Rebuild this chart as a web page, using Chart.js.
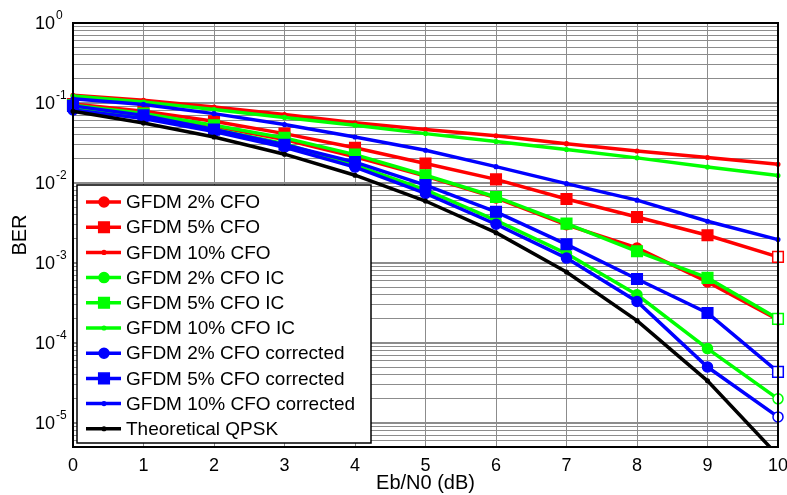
<!DOCTYPE html>
<html>
<head>
<meta charset="utf-8">
<script src="https://cdn.jsdelivr.net/npm/chart.js@4.4.1/dist/chart.umd.min.js"></script>
<style>
  html, body { margin: 0; padding: 0; background: #fff; }
  #wrap { width: 787px; height: 495px; }
</style>
</head>
<body>
<div id="wrap"><canvas id="berChart" width="787" height="495"></canvas></div>
<script>
// Eb/N0 in dB
const ebn0 = [0, 1, 2, 3, 4, 5, 6, 7, 8, 9, 10];

// BER curves
const cfo2    = [0.093, 0.072, 0.051, 0.035, 0.0212, 0.0122, 0.0065, 0.0030, 0.00154, 0.00058, 0.000195];
const cfo5    = [0.097, 0.079, 0.059, 0.0414, 0.0275, 0.0175, 0.0111, 0.0063, 0.00376, 0.00222, 0.00119];
const cfo10   = [0.125, 0.108, 0.089, 0.0716, 0.0565, 0.0465, 0.039, 0.031, 0.0251, 0.0208, 0.0171];
const cfo2ic  = [0.088, 0.068, 0.047, 0.031, 0.0167, 0.0082, 0.0034, 0.00131, 0.0004, 0.000085, 0.00002];
const cfo5ic  = [0.094, 0.074, 0.0526, 0.0366, 0.0226, 0.0125, 0.00668, 0.0031, 0.0014, 0.00065, 0.0002];
const cfo10ic = [0.122, 0.103, 0.083, 0.066, 0.0527, 0.0414, 0.033, 0.0262, 0.0206, 0.0158, 0.0124];
const cfo2cor  = [0.082, 0.064, 0.044, 0.028, 0.0158, 0.0074, 0.00305, 0.00115, 0.00033, 0.00005, 0.0000119];
const cfo5cor  = [0.092, 0.070, 0.0465, 0.030, 0.0182, 0.0094, 0.00436, 0.00171, 0.00063, 0.000237, 0.0000435];
const cfo10cor = [0.113, 0.096, 0.0736, 0.0537, 0.0376, 0.0256, 0.016, 0.0098, 0.0061, 0.00332, 0.00196];
const qpsk     = [0.0786, 0.0563, 0.0375, 0.0229, 0.0125, 0.00595, 0.00239, 0.00077, 0.00019, 0.0000336, 0.0000039];

// axes
const xMin = 0, xMax = 10;
const yMin = 5e-6, yMax = 1;
const yDecades = [0, -1, -2, -3, -4, -5];
const ySignificands = [1, 2, 3, 4, 5, 6, 7, 8, 9];

const FONT = '"Liberation Sans", Arial, sans-serif';

const series = [
    { label: 'GFDM 2% CFO', data: cfo2, color: '#ff0000', marker: 'circle' },
    { label: 'GFDM 5% CFO', data: cfo5, color: '#ff0000', marker: 'rect' },
    { label: 'GFDM 10% CFO', data: cfo10, color: '#ff0000', marker: 'dot' },
    { label: 'GFDM 2% CFO IC', data: cfo2ic, color: '#00ff00', marker: 'circle' },
    { label: 'GFDM 5% CFO IC', data: cfo5ic, color: '#00ff00', marker: 'rect' },
    { label: 'GFDM 10% CFO IC', data: cfo10ic, color: '#00ff00', marker: 'dot' },
    { label: 'GFDM 2% CFO corrected', data: cfo2cor, color: '#0000ff', marker: 'circle' },
    { label: 'GFDM 5% CFO corrected', data: cfo5cor, color: '#0000ff', marker: 'rect' },
    { label: 'GFDM 10% CFO corrected', data: cfo10cor, color: '#0000ff', marker: 'dot' },
    { label: 'Theoretical QPSK', data: qpsk, color: '#000000', marker: 'dot' }
];

const markerStyle = {
    circle: { style: 'circle', radius: 5 },
    rect: { style: 'rect', radius: 7.5 },
    dot: { style: 'circle', radius: 1.8 }
};

const datasets = series.map((s, i) => {
    const m = markerStyle[s.marker];
    const fills = s.data.map((v, j) => j === s.data.length - 1 && s.marker !== 'dot' ? '#ffffff' : s.color);
    return {
        label: s.label,
        data: s.data.map((v, j) => ({ x: ebn0[j], y: v })),
        borderColor: s.color,
        backgroundColor: s.color,
        borderWidth: 3.5,
        pointStyle: m.style,
        pointRadius: m.radius,
        pointBackgroundColor: fills,
        pointBorderColor: s.color,
        pointBorderWidth: 1.5,
        tension: 0,
        clip: { left: 10, right: 10, top: 10, bottom: 0 },
        order: series.length - i
    };
});

// frame, y labels with exponents, legend box
const matlabLook = {
    id: 'matlabLook',
    afterDraw(chart) {
        const ctx = chart.ctx;
        const area = chart.chartArea;
        const yScale = chart.scales.y;
        ctx.save();

        ctx.strokeStyle = '#000';
        ctx.lineWidth = 2;
        ctx.strokeRect(area.left, area.top, area.right - area.left, area.bottom - area.top);

        ctx.fillStyle = '#000';
        yDecades.forEach(e => {
            const y = yScale.getPixelForValue(Math.pow(10, e));
            ctx.font = '18px ' + FONT;
            ctx.textAlign = 'right';
            ctx.textBaseline = 'middle';
            ctx.fillText('10', 55, y + 1);
            ctx.font = '12px ' + FONT;
            ctx.textAlign = 'left';
            ctx.fillText(String(e), 56, y - 7);
        });

        // legend
        const lx = 77, ly = 185, lw = 294, lh = 258;
        ctx.fillStyle = '#fff';
        ctx.fillRect(lx, ly, lw, lh);
        ctx.strokeStyle = '#000';
        ctx.lineWidth = 1.5;
        ctx.strokeRect(lx, ly, lw, lh);

        series.forEach((s, i) => {
            const y = 202 + i * 25.2;
            ctx.strokeStyle = s.color;
            ctx.lineWidth = 3.5;
            ctx.beginPath();
            ctx.moveTo(86, y);
            ctx.lineTo(121, y);
            ctx.stroke();
            const m = markerStyle[s.marker];
            ctx.fillStyle = s.color;
            ctx.strokeStyle = s.color;
            ctx.lineWidth = 1.5;
            Chart.helpers.drawPoint(ctx, { pointStyle: m.style, radius: m.radius, rotation: 0, borderWidth: 1.5 }, 104, y);
            ctx.fillStyle = '#000';
            ctx.font = '19px ' + FONT;
            ctx.textAlign = 'left';
            ctx.textBaseline = 'middle';
            ctx.fillText(s.label, 126, y + 1);
        });

        ctx.restore();
    }
};

new Chart(document.getElementById('berChart'), {
    type: 'line',
    data: { datasets: datasets },
    options: {
        responsive: false,
        animation: false,
        events: [],
        layout: { padding: { top: 23, right: 9, left: 0, bottom: 0 } },
        plugins: { legend: { display: false }, tooltip: { enabled: false } },
        scales: {
            x: {
                type: 'linear',
                min: xMin,
                max: xMax,
                ticks: { stepSize: 1, color: '#000', font: { size: 18, family: FONT }, padding: 8 },
                grid: { color: '#8c8c8c', lineWidth: 1, drawTicks: false },
                border: { color: '#000', width: 2 },
                title: { display: true, text: 'Eb/N0 (dB)', color: '#000', font: { size: 20, family: FONT }, padding: { top: 0, bottom: 0 } },
                afterFit(scale) {
                    scale.height = 48;
                    scale.paddingLeft = 0;
                    scale.paddingRight = 0;
                }
            },
            y: {
                type: 'logarithmic',
                min: yMin,
                max: yMax,
                ticks: { display: false },
                afterBuildTicks(scale) {
                    const ticks = [];
                    yDecades.slice().reverse().concat([-6]).forEach(e => {
                        ySignificands.forEach(s => {
                            const v = s * Math.pow(10, e);
                            if (v >= yMin * 0.999 && v <= yMax * 1.001) ticks.push({ value: v });
                        });
                    });
                    scale.ticks = ticks;
                },
                grid: {
                    drawTicks: false,
                    color: '#8c8c8c',
                    lineWidth: c => {
                        const v = c.tick ? c.tick.value : 0;
                        const e = Math.log10(v);
                        return Math.abs(e - Math.round(e)) < 1e-6 ? 2 : 1;
                    }
                },
                border: { color: '#000', width: 2 },
                title: { display: true, text: 'BER', color: '#000', font: { size: 20, family: FONT }, padding: { top: 8, bottom: 0 } },
                afterFit(scale) {
                    scale.width = 73;
                    scale.paddingTop = 0;
                    scale.paddingBottom = 0;
                }
            }
        }
    },
    plugins: [matlabLook]
});
</script>
</body>
</html>
